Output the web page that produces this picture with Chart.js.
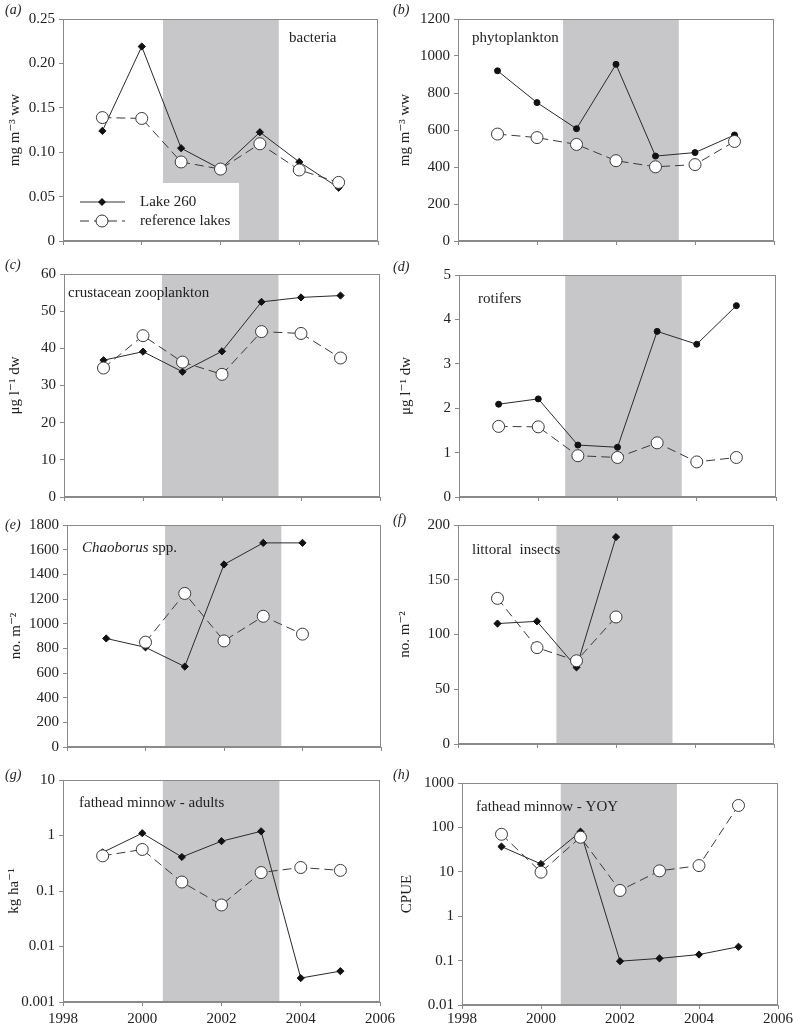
<!DOCTYPE html>
<html><head><meta charset="utf-8">
<script src="https://cdn.jsdelivr.net/npm/chart.js@4.4.0/dist/chart.umd.min.js"></script>
<style>
html,body{margin:0;padding:0;background:#fff;overflow:hidden;}
#wrap{position:relative;width:793px;height:1027px;overflow:hidden;background:#fff;}
canvas{position:absolute;}
</style></head><body><div id="wrap"></div>
<script>
// ---------- DATA ----------
const years = [1999, 2000, 2001, 2002, 2003, 2004, 2005];
const xTickValues = [1998, 2000, 2002, 2004, 2006];
const xTickLabels = ['1998', '2000', '2002', '2004', '2006'];
const seriesNames = ['Lake 260', 'reference lakes'];

// (a) bacteria
const bacteriaLake = [0.124, 0.219, 0.1045, 0.081, 0.1225, 0.089, 0.060];
const bacteriaRef  = [0.139, 0.138, 0.089, 0.081, 0.1095, 0.080, 0.066];
const bacteriaTicks = [0, 0.05, 0.10, 0.15, 0.20, 0.25];
const bacteriaTickLabels = ['0', '0.05', '0.10', '0.15', '0.20', '0.25'];

// (b) phytoplankton
const phytoLake = [920, 748, 607, 955, 459, 478, 573];
const phytoRef  = [578, 559, 522, 434, 401, 413, 538];
const phytoTicks = [0, 200, 400, 600, 800, 1000, 1200];
const phytoTickLabels = ['0', '200', '400', '600', '800', '1000', '1200'];

// (c) crustacean zooplankton
const crustLake = [36.8, 39.1, 33.7, 39.2, 52.5, 53.7, 54.2];
const crustRef  = [34.7, 43.4, 36.3, 33.0, 44.5, 44.0, 37.4];
const crustTicks = [0, 10, 20, 30, 40, 50, 60];
const crustTickLabels = ['0', '10', '20', '30', '40', '50', '60'];

// (d) rotifers
const rotLake = [2.09, 2.21, 1.17, 1.12, 3.73, 3.44, 4.31];
const rotRef  = [1.59, 1.58, 0.93, 0.89, 1.22, 0.79, 0.89];
const rotTicks = [0, 1, 2, 3, 4, 5];
const rotTickLabels = ['0', '1', '2', '3', '4', '5'];

// (e) Chaoborus spp.
const chaoLake = [880, 808, 652, 1480, 1655, 1655, null];
const chaoRef  = [null, 850, 1245, 860, 1060, 915, null];
const chaoTicks = [0, 200, 400, 600, 800, 1000, 1200, 1400, 1600, 1800];
const chaoTickLabels = ['0', '200', '400', '600', '800', '1000', '1200', '1400', '1600', '1800'];

// (f) littoral insects
const littLake = [110, 112, 70, 189, null, null, null];
const littRef  = [133, 88, 76, 116, null, null, null];
const littTicks = [0, 50, 100, 150, 200];
const littTickLabels = ['0', '50', '100', '150', '200'];

// (g) fathead minnow - adults (log)
const adultLake = [0.495, 1.10, 0.41, 0.79, 1.19, 0.0027, 0.0036];
const adultRef  = [0.43, 0.56, 0.145, 0.056, 0.215, 0.265, 0.235];
const adultTicks = [0.001, 0.01, 0.1, 1, 10];
const adultTickLabels = ['0.001', '0.01', '0.1', '1', '10'];

// (h) fathead minnow - YOY (log)
const yoyLake = [37, 15, 80, 0.097, 0.112, 0.137, 0.205];
const yoyRef  = [70, 9.8, 60, 3.8, 10.5, 13.8, 312];
const yoyTicks = [0.01, 0.1, 1, 10, 100, 1000];
const yoyTickLabels = ['0.01', '0.1', '1', '10', '100', '1000'];

// treatment period band (years)
const bandStart = [2000.54, 2000.66, 2000.48, 2000.68, 2000.5, 2000.49, 2000.52, 2000.5];
const bandEnd   = [2003.48, 2003.59, 2003.43, 2003.62, 2003.46, 2003.43, 2003.46, 2003.44];

// ---------- LAYOUT / STYLE ----------
const SERIF = '"Liberation Serif", "Times New Roman", "DejaVu Serif", serif';
const TXT = '#222';
const AX = '#8a8a8a';
const BAND = '#c7c7c9';

const panels = [
  {id:'a', lake:bacteriaLake, ref:bacteriaRef, ticks:bacteriaTicks, labels:bacteriaTickLabels, type:'linear',
   ytitle:'mg m\u207B\u00B3 ww', title:[['bacteria',false]], tpos:[226,19], lakeStyle:'rectRot',
   canvas:[0,0,400,258], plot:[63,19,378,241], ytx:15, lab:[5,10], legend:true, xlabels:false, xpad:2},
  {id:'b', lake:phytoLake, ref:phytoRef, ticks:phytoTicks, labels:phytoTickLabels, type:'linear',
   ytitle:'mg m\u207B\u00B3 ww', title:[['phytoplankton',false]], tpos:[14,19], lakeStyle:'circle',
   canvas:[388,0,425,258], plot:[458,19,774,241], ytx:17, lab:[5,10], xlabels:false, xpad:2},
  {id:'c', lake:crustLake, ref:crustRef, ticks:crustTicks, labels:crustTickLabels, type:'linear',
   ytitle:'\u03BCg l\u207B\u00B9 dw', title:[['crustacean zooplankton',false]], tpos:[4,19], lakeStyle:'rectRot',
   canvas:[0,258,400,254], plot:[64,274,380,497], ytx:15, lab:[5,7], xlabels:false, xpad:2},
  {id:'d', lake:rotLake, ref:rotRef, ticks:rotTicks, labels:rotTickLabels, type:'linear',
   ytitle:'\u03BCg l\u207B\u00B9 dw', title:[['rotifers',false]], tpos:[19,24], lakeStyle:'circle',
   canvas:[388,258,425,254], plot:[459,275,776,497], ytx:18, lab:[5,9], xlabels:false, xpad:2},
  {id:'e', lake:chaoLake, ref:chaoRef, ticks:chaoTicks, labels:chaoTickLabels, type:'linear',
   ytitle:'no. m\u207B\u00B2', title:[['Chaoborus',true],[' spp.',false]], tpos:[15,23], lakeStyle:'rectRot',
   canvas:[0,512,400,253], plot:[67,525,381,747], ytx:16, lab:[5,13], xlabels:false, xpad:2},
  {id:'f', lake:littLake, ref:littRef, ticks:littTicks, labels:littTickLabels, type:'linear',
   ytitle:'no. m\u207B\u00B2', title:[['littoral  insects',false]], tpos:[14,25], lakeStyle:'rectRot',
   canvas:[388,512,425,253], plot:[458,523,774,744], ytx:17, lab:[5,8], xlabels:false, xpad:2},
  {id:'g', lake:adultLake, ref:adultRef, ticks:adultTicks, labels:adultTickLabels, type:'logarithmic',
   ytitle:'kg ha\u207B\u00B9', title:[['fathead minnow - adults',false]], tpos:[16,23], lakeStyle:'rectRot',
   canvas:[0,765,400,262], plot:[63,780,380,1002], ytx:14, lab:[5,10], xlabels:true, xpad:4},
  {id:'h', lake:yoyLake, ref:yoyRef, ticks:yoyTicks, labels:yoyTickLabels, type:'logarithmic',
   ytitle:'CPUE', title:[['fathead minnow - YOY',false]], tpos:[14,24], lakeStyle:'rectRot',
   canvas:[388,765,425,262], plot:[462,783,778,1005], ytx:19, lab:[5,10], xlabels:true, xpad:1},
];

const wrap = document.getElementById('wrap');

function pts(vals) {
  return years.map((y, i) => ({x: y, y: vals[i] === undefined ? null : vals[i]}));
}

panels.forEach((p, idx) => {
  const [cx, cy, cw, ch] = p.canvas;
  const [pl, pt, pr, pb] = p.plot;
  const cv = document.createElement('canvas');
  cv.width = cw; cv.height = ch;
  cv.style.left = cx + 'px'; cv.style.top = cy + 'px';
  cv.style.width = cw + 'px'; cv.style.height = ch + 'px';
  wrap.appendChild(cv);

  const yAxisW = pl - cx;
  const xAxisH = (cy + ch) - pb;
  const padTop = pt - cy;
  const padRight = (cx + cw) - pr;

  const overlay = {
    id: 'overlay' + p.id,
    beforeDatasetsDraw(chart) {
      const {ctx, chartArea: a, scales: {x}} = chart;
      ctx.save();
      const x0 = x.getPixelForValue(bandStart[idx]);
      const x1 = x.getPixelForValue(bandEnd[idx]);
      ctx.fillStyle = BAND;
      ctx.fillRect(x0, a.top, x1 - x0, a.bottom - a.top);
      if (p.legend) {
        ctx.fillStyle = '#fff';
        ctx.fillRect(a.left + 1, a.bottom - 58, 175, 57);
      }
      // frame
      ctx.strokeStyle = AX; ctx.lineWidth = 1;
      ctx.strokeRect(Math.round(a.left) + 0.5, Math.round(a.top) + 0.5,
                     Math.round(a.right - a.left) - 1, Math.round(a.bottom - a.top) - 1);
      ctx.restore();
    },
    afterDatasetsDraw(chart) {
      const {ctx, chartArea: a} = chart;
      ctx.save();
      ctx.fillStyle = TXT;
      ctx.textBaseline = 'middle';
      // panel title
      let tx = a.left + p.tpos[0];
      const ty = a.top + p.tpos[1];
      p.title.forEach(([t, it]) => {
        ctx.font = (it ? 'italic ' : '') + '15px ' + SERIF;
        ctx.fillText(t, tx, ty);
        tx += ctx.measureText(t).width;
      });
      // panel letter
      ctx.font = 'italic 14px ' + SERIF;
      ctx.fillText('(' + p.id + ')', p.lab[0], p.lab[1]);
      // legend
      if (p.legend) {
        const lx0 = a.left + 17, lx1 = a.left + 62, mx = a.left + 39;
        const y1 = a.bottom - 39, y2 = a.bottom - 20;
        ctx.strokeStyle = '#333'; ctx.lineWidth = 1;
        ctx.beginPath(); ctx.moveTo(lx0, y1); ctx.lineTo(lx1, y1); ctx.stroke();
        ctx.setLineDash([9, 5]);
        ctx.beginPath(); ctx.moveTo(lx0, y2); ctx.lineTo(lx1, y2); ctx.stroke();
        ctx.setLineDash([]);
        ctx.fillStyle = '#111';
        ctx.beginPath();
        ctx.moveTo(mx, y1 - 4); ctx.lineTo(mx + 4, y1); ctx.lineTo(mx, y1 + 4); ctx.lineTo(mx - 4, y1);
        ctx.closePath(); ctx.fill();
        ctx.fillStyle = '#fff';
        ctx.beginPath(); ctx.arc(mx, y2, 6, 0, Math.PI * 2); ctx.fill(); ctx.stroke();
        ctx.fillStyle = TXT;
        ctx.font = '15px ' + SERIF;
        ctx.fillText(seriesNames[0], a.left + 77, y1);
        ctx.fillText(seriesNames[1], a.left + 77, y2);
      }
      ctx.restore();
    }
  };

  new Chart(cv, {
    type: 'line',
    data: {
      datasets: [
        {
          label: seriesNames[1], data: pts(p.ref), order: 0,
          borderColor: '#3a3a3a', borderWidth: 1, borderDash: [9, 5],
          pointStyle: 'circle', pointRadius: 6, pointBackgroundColor: '#fff',
          pointBorderColor: '#3a3a3a', pointBorderWidth: 1, spanGaps: false, tension: 0
        },
        {
          label: seriesNames[0], data: pts(p.lake), order: 1,
          borderColor: '#2a2a2a', borderWidth: 1,
          pointStyle: p.lakeStyle, pointRadius: p.lakeStyle === 'circle' ? 3 : 3.6,
          pointBackgroundColor: '#111', pointBorderColor: '#111', pointBorderWidth: 1,
          spanGaps: false, tension: 0
        }
      ]
    },
    options: {
      responsive: false, animation: false, devicePixelRatio: 1,
      layout: {padding: {top: padTop, right: padRight, bottom: 0, left: 0}},
      plugins: {legend: {display: false}, tooltip: {enabled: false}},
      scales: {
        x: {
          type: 'linear', min: 1998, max: 2006,
          afterBuildTicks: s => { s.ticks = xTickValues.map(v => ({value: v})); },
          afterFit: s => { s.height = xAxisH; },
          grid: {display: true, drawOnChartArea: false, drawTicks: true, tickLength: 4, color: AX},
          border: {display: true, color: AX},
          ticks: {
            padding: p.xpad, maxRotation: 0, color: TXT, font: {family: SERIF, size: 15},
            callback: (v, i) => p.xlabels ? xTickLabels[i] : ''
          }
        },
        y: {
          type: p.type, min: p.ticks[0], max: p.ticks[p.ticks.length - 1],
          afterBuildTicks: s => { s.ticks = p.ticks.map(v => ({value: v})); },
          afterFit: s => { s.width = yAxisW; },
          grid: {display: true, drawOnChartArea: false, drawTicks: true, tickLength: 4, color: AX},
          border: {display: true, color: AX},
          ticks: {
            padding: 4, color: TXT, font: {family: SERIF, size: 15},
            callback: (v, i) => p.labels[i]
          },
          title: {
            display: true, text: p.ytitle, color: TXT,
            font: {family: SERIF, size: 15}, padding: {top: p.ytx - 9, bottom: 0}
          }
        }
      }
    },
    plugins: [overlay]
  });
});
</script>
</body></html>
